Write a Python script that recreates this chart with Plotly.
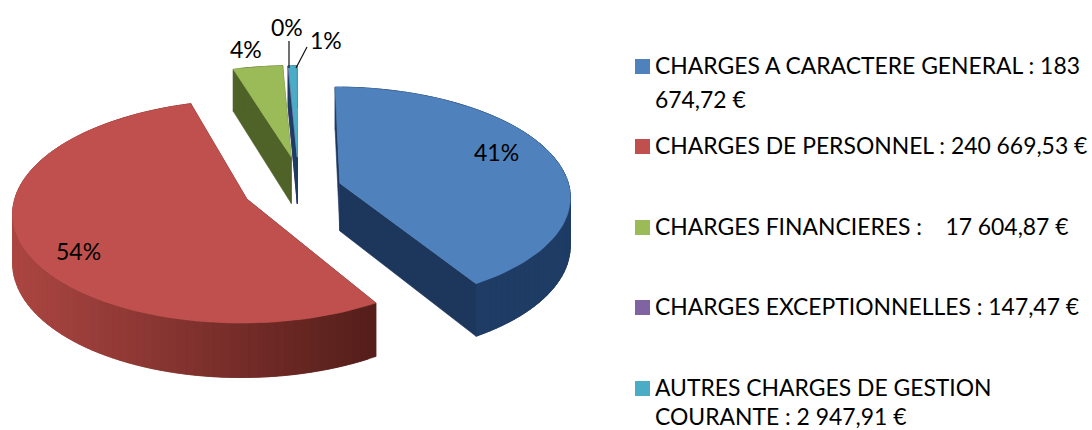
import math
import plotly.graph_objects as go

# ---- data ----
categories = ["CHARGES A CARACTERE GENERAL", "CHARGES DE PERSONNEL", "CHARGES FINANCIERES",
              "CHARGES EXCEPTIONNELLES", "AUTRES CHARGES DE GESTION COURANTE"]
values = [183674.72, 240669.53, 17604.87, 147.47, 2947.91]
percent_labels = ["41%", "54%", "4%", "0%", "1%"]
legend_lines = [
    ["CHARGES A CARACTERE GENERAL : 183", "674,72 €"],
    ["CHARGES DE PERSONNEL : 240 669,53 €"],
    ["CHARGES FINANCIERES :\u00a0\u00a0\u00a0\u00a017 604,87 €"],
    ["CHARGES EXCEPTIONNELLES : 147,47 €"],
    ["AUTRES CHARGES DE GESTION", "COURANTE : 2 947,91 €"],
]

# ---- style / projection of the tilted, exploded pie ----
top_colors = ["#4f81bd", "#c0504d", "#9bbb59", "#8064a2", "#4bacc6"]
side_left = [(34, 66, 110), (172, 70, 66), (79, 98, 40), (64, 50, 90), (30, 60, 100)]
side_right = [(28, 54, 92), (84, 30, 26), (79, 98, 40), (64, 50, 90), (30, 60, 100)]
CX, CY = 292.5, 189.5
R, TILT, PERSP, DEPTH = 230, 0.47, 0.11, 48
# explosion distance (in radii) and its direction (None = the slice's own middle)
explode_dist = [0.215, 0.215, 0.31, 0.31, 0.31]
explode_dir = [None, None, 359, 4, 4]
FONT = "Lato"
FS_LEGEND = 22.9
FS_LABEL = 23

label_pos = [(496, 152), (78, 251), (246, 49), (287, 27), (326, 40)]
leaders = [None, None, None, ((289, 41), (289, 68)), ((307, 47), (296, 68))]
legend_rows = [(65, 99), (145,), (226,), (306,), (387, 416)]
SWATCH_X, TEXT_X = 642.5, 654


def proj(ex, ey, r, theta):
    t = math.radians(theta)
    x, y = ex + r * math.sin(t), ey + r * math.cos(t)
    s = 1 / (1 + PERSP * y)
    return CX + R * x * s, CY - R * TILT * y * s, s


def lerp(c0, c1, f):
    f = min(1, max(0, f))
    return "rgb(%d,%d,%d)" % tuple(round(a + (b - a) * f) for a, b in zip(c0, c1))


fig = go.Figure()


def poly(xs, ys, color):
    fig.add_trace(go.Scatter(x=xs, y=ys, mode="lines", fill="toself", fillcolor=color,
                             line=dict(color=color, width=0.6), hoverinfo="skip", showlegend=False))


total = sum(values)
start = 0.0
spans = []
for v in values:
    spans.append((start, start + v / total * 360))
    start += v / total * 360

x_min, x_max = 12, 375
tops = []
for i, (a0, a1) in enumerate(spans):
    d = explode_dir[i] if explode_dir[i] is not None else (a0 + a1) / 2
    ex = explode_dist[i] * math.sin(math.radians(d))
    ey = explode_dist[i] * math.cos(math.radians(d))
    apex = proj(ex, ey, 0, 0)
    n = max(1, math.ceil((a1 - a0) / 2))
    angles = [a0 + (a1 - a0) * k / n for k in range(n + 1)]
    pts = [proj(ex, ey, 1, a) for a in angles]
    # radial cut faces
    for p in (pts[0], pts[-1]):
        poly([apex[0], p[0], p[0], apex[0], apex[0]],
             [apex[1], p[1], p[1] + DEPTH * p[2], apex[1] + DEPTH * apex[2], apex[1]],
             lerp(side_left[i], side_right[i], 1))
    # outer rim, strip by strip so the shading can run across it; strips overlap to hide seams
    for k in range(n):
        p, q = pts[k], pts[min(k + 2, n)]
        f = ((pts[k][0] + pts[k + 1][0]) / 2 - x_min) / (x_max - x_min) if i == 1 else 0.5
        col = lerp(side_left[i], side_right[i], f)
        poly([p[0], q[0], q[0], p[0], p[0]],
             [p[1], q[1], q[1] + DEPTH * q[2], p[1] + DEPTH * p[2], p[1]], col)
    tops.append(([apex[0]] + [p[0] for p in pts] + [apex[0]],
                 [apex[1]] + [p[1] for p in pts] + [apex[1]]))

for i, (xs, ys) in enumerate(tops):
    poly(xs, ys, top_colors[i])

# leader lines
for seg in leaders:
    if seg:
        fig.add_trace(go.Scatter(x=[seg[0][0], seg[1][0]], y=[seg[0][1], seg[1][1]], mode="lines",
                                 line=dict(color="#111111", width=1.2), hoverinfo="skip", showlegend=False))

annotations = []
for txt, (x, y) in zip(percent_labels, label_pos):
    annotations.append(dict(x=x, y=y, text=txt, showarrow=False, xanchor="center", yanchor="middle",
                            font=dict(family=FONT, size=FS_LABEL, color="#000000")))

for i, rows in enumerate(legend_rows):
    fig.add_trace(go.Scatter(x=[SWATCH_X], y=[rows[0] + 1.5], mode="markers", name=categories[i],
                             marker=dict(symbol="square", size=15, color=top_colors[i], line=dict(width=0)),
                             hoverinfo="skip", showlegend=False))
    for line, y in zip(legend_lines[i], rows):
        annotations.append(dict(x=TEXT_X, y=y, text=line, showarrow=False, xanchor="left", yanchor="middle",
                                borderpad=0, font=dict(family=FONT, size=FS_LEGEND, color="#000000")))

fig.update_layout(
    width=1092, height=430, margin=dict(l=0, r=0, t=0, b=0),
    paper_bgcolor="white", plot_bgcolor="white", showlegend=False,
    xaxis=dict(range=[0, 1092], visible=False, fixedrange=True),
    yaxis=dict(range=[430, 0], visible=False, fixedrange=True),
    annotations=annotations,
)
fig.write_html("out.html", config={"displayModeBar": False},
               post_script="document.body.style.margin='0';")
